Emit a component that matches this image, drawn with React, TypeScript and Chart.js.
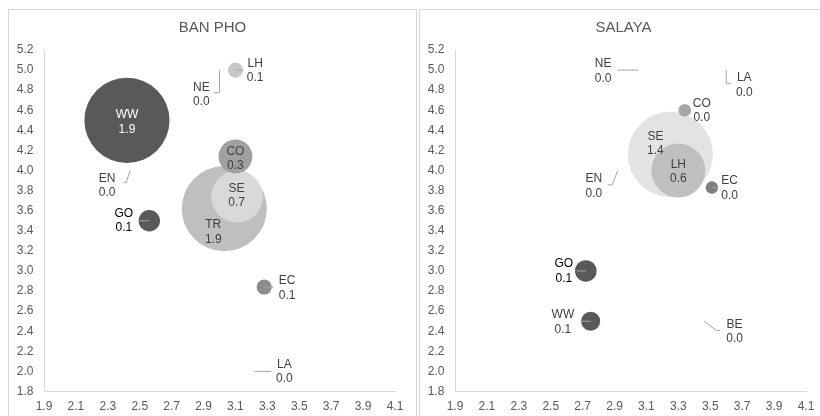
import React, { useEffect, useRef } from 'react';
import { Chart, registerables } from 'chart.js';

Chart.register(...registerables);

const FONT = '"Liberation Sans", Arial, Helvetica, sans-serif';
const AXIS_TEXT = '#595959';
const LABEL_TEXT = '#404040';
const LINE_GRAY = '#d9d9d9';
const LEADER_GRAY = '#a6a6a6';
const MAX_RADIUS = 42.6;

// ---- BAN PHO ----
const banPhoCategories = ['TR', 'SE', 'CO', 'WW', 'LH', 'NE', 'EN', 'GO', 'EC', 'LA'];
const banPhoX = [3.03, 3.11, 3.1, 2.42, 3.1, 3.0, 2.44, 2.56, 3.28, 3.22];
const banPhoY = [3.62, 3.74, 4.14, 4.5, 5.0, 5.0, 4.0, 3.5, 2.84, 2.0];
const banPhoValues = [1.9, 0.7, 0.3, 1.9, 0.06, 0.0, 0.0, 0.12, 0.06, 0.0];

// ---- SALAYA ----
const salayaCategories = ['SE', 'LH', 'CO', 'EC', 'NE', 'LA', 'EN', 'GO', 'WW', 'BE'];
const salayaX = [3.25, 3.3, 3.34, 3.51, 3.05, 3.6, 2.92, 2.72, 2.75, 3.46];
const salayaY = [4.16, 4.0, 4.6, 3.83, 5.0, 5.0, 4.0, 3.0, 2.5, 2.5];
const salayaValues = [1.4, 0.56, 0.03, 0.03, 0.0, 0.0, 0.0, 0.09, 0.07, 0.0];

// Axis ranges and tick step
const xRange = [1.9, 4.1];
const yRange = [1.8, 5.2];
const tickStep = 0.2;

// Styling per point (fill, label colour, label offset, leader polyline)
type Pt = [number, number];
interface PointStyle {
  fill: string;
  text: string;
  label: Pt;
  leader?: Pt[];
}

const banPhoStyles: PointStyle[] = [
  { fill: '#bfbfbf', text: LABEL_TEXT, label: [-11, 23.5] },
  { fill: '#d9d9d9', text: LABEL_TEXT, label: [-0.5, -1] },
  { fill: '#a0a0a0', text: LABEL_TEXT, label: [0, 2] },
  { fill: '#595959', text: '#ffffff', label: [0, 1.7] },
  { fill: '#c8c8c8', text: LABEL_TEXT, label: [19.7, 0.6], leader: [[0, 0], [8, 0]] },
  { fill: '#595959', text: LABEL_TEXT, label: [-18.2, 24.5], leader: [[0, 0], [0, 22.7], [-6, 22.7]] },
  { fill: '#595959', text: LABEL_TEXT, label: [-23, 15], leader: [[0, 0], [-4, 12], [-6.7, 12]] },
  { fill: '#595959', text: '#000000', label: [-25.5, 0], leader: [[-10, 0], [0, 0]] },
  { fill: '#8c8c8c', text: LABEL_TEXT, label: [23, 1.3], leader: [[0, 0], [9.5, 0]] },
  { fill: '#595959', text: LABEL_TEXT, label: [29.7, 0.5], leader: [[0, 0], [16.7, 0]] },
];

const salayaStyles: PointStyle[] = [
  { fill: '#e3e3e3', text: LABEL_TEXT, label: [-15, -11] },
  { fill: '#bfbfbf', text: LABEL_TEXT, label: [0, 1] },
  { fill: '#a5a5a5', text: LABEL_TEXT, label: [17, 0.3] },
  { fill: '#7f7f7f', text: LABEL_TEXT, label: [17.7, 0.4], leader: [[0, 0], [5, 0]] },
  { fill: '#595959', text: LABEL_TEXT, label: [-35.3, 1], leader: [[0, 0], [-21, 0]] },
  { fill: '#595959', text: LABEL_TEXT, label: [18, 15], leader: [[0, 0], [0, 13.3], [5, 13.3]] },
  { fill: '#595959', text: LABEL_TEXT, label: [-23.8, 15.8], leader: [[0, 0], [-5.6, 14.3], [-10, 14.3]] },
  { fill: '#595959', text: '#000000', label: [-22, 0], leader: [[0, 0], [-9, 0]] },
  { fill: '#595959', text: LABEL_TEXT, label: [-27.7, 1], leader: [[-10, 0], [0, 0]] },
  { fill: '#595959', text: LABEL_TEXT, label: [30.7, 10.5], leader: [[0, 0], [12.7, 9.3], [16, 9.3]] },
];

// Title drawn centred above the plot area
const panelTitle = {
  id: 'panelTitle',
  afterDraw(chart: any, _args: any, opts: any) {
    const { ctx, width } = chart;
    ctx.save();
    ctx.font = `15px ${FONT}`;
    ctx.fillStyle = AXIS_TEXT;
    ctx.textAlign = 'center';
    ctx.textBaseline = 'middle';
    ctx.fillText(opts.text, width / 2, 18.3);
    ctx.restore();
  },
};

// Category / value labels with leader lines
const bubbleLabels = {
  id: 'bubbleLabels',
  afterDatasetsDraw(chart: any, _args: any, opts: any) {
    const { ctx } = chart;
    const meta = chart.getDatasetMeta(0);
    const { categories, values, styles } = opts;
    ctx.save();
    ctx.strokeStyle = LEADER_GRAY;
    ctx.lineWidth = 1;
    meta.data.forEach((pt: any, i: number) => {
      const lead = styles[i].leader;
      if (!lead) return;
      ctx.beginPath();
      lead.forEach(([dx, dy]: Pt, j: number) => {
        const px = pt.x + dx;
        const py = pt.y + dy;
        if (j === 0) ctx.moveTo(px, py);
        else ctx.lineTo(px, py);
      });
      ctx.stroke();
    });
    ctx.font = `12px ${FONT}`;
    ctx.textAlign = 'center';
    ctx.textBaseline = 'middle';
    meta.data.forEach((pt: any, i: number) => {
      const [dx, dy] = styles[i].label;
      const cx = pt.x + dx;
      const cy = pt.y + dy;
      ctx.fillStyle = styles[i].text;
      ctx.fillText(categories[i], cx, cy - 7.25);
      ctx.fillText(Number(values[i]).toFixed(1), cx, cy + 7.25);
    });
    ctx.restore();
  },
};

const fmt = (v: any) => Number(v).toFixed(1);

function buildConfig(
  title: string,
  categories: string[],
  xs: number[],
  ys: number[],
  values: number[],
  styles: PointStyle[]
): any {
  const maxValue = Math.max(...values);
  const data = xs.map((x, i) => ({
    x,
    y: ys[i],
    r: MAX_RADIUS * Math.sqrt(values[i] / maxValue),
  }));
  const tickFont = { size: 12, family: FONT };
  return {
    type: 'bubble',
    data: {
      datasets: [
        {
          label: title,
          data,
          backgroundColor: styles.map((s) => s.fill),
          borderWidth: 0,
          hoverRadius: 0,
        },
      ],
    },
    plugins: [panelTitle, bubbleLabels],
    options: {
      animation: false,
      responsive: false,
      events: [],
      layout: { autoPadding: false, padding: { top: 40, right: 21, bottom: 0, left: 0 } },
      plugins: {
        legend: { display: false },
        tooltip: { enabled: false },
        title: { display: false },
        panelTitle: { text: title },
        bubbleLabels: { categories, values, styles },
      },
      scales: {
        x: {
          type: 'linear',
          min: xRange[0],
          max: xRange[1],
          grid: { display: false, drawTicks: false },
          border: { display: true, color: LINE_GRAY, width: 1 },
          ticks: {
            stepSize: tickStep,
            callback: fmt,
            color: AXIS_TEXT,
            font: tickFont,
            padding: 8,
            maxRotation: 0,
            autoSkip: false,
          },
          afterFit: (s: any) => {
            s.height = 28.5;
          },
        },
        y: {
          type: 'linear',
          min: yRange[0],
          max: yRange[1],
          grid: { display: false, drawTicks: false },
          border: { display: true, color: LINE_GRAY, width: 1 },
          ticks: {
            stepSize: tickStep,
            callback: fmt,
            color: AXIS_TEXT,
            font: tickFont,
            padding: 10.5,
            autoSkip: false,
          },
          afterFit: (s: any) => {
            s.width = 35;
          },
        },
      },
    },
  };
}

function BubblePanel(props: {
  left: number;
  title: string;
  categories: string[];
  xs: number[];
  ys: number[];
  values: number[];
  styles: PointStyle[];
}) {
  const ref = useRef<HTMLCanvasElement | null>(null);
  const { left, title, categories, xs, ys, values, styles } = props;
  useEffect(() => {
    if (!ref.current) return;
    const chart = new Chart(ref.current, buildConfig(title, categories, xs, ys, values, styles));
    return () => chart.destroy();
  }, []);
  return (
    <div
      style={{
        position: 'absolute',
        left,
        top: 9,
        width: 407,
        height: 420,
        border: `1px solid ${LINE_GRAY}`,
        background: '#ffffff',
      }}
    >
      <canvas ref={ref} width={407} height={410} style={{ display: 'block', width: 407, height: 410 }} />
    </div>
  );
}

export default function App() {
  return (
    <div
      style={{
        position: 'fixed',
        left: 0,
        top: 0,
        width: 820,
        height: 416,
        overflow: 'hidden',
        background: '#ffffff',
      }}
    >
      <BubblePanel
        left={8}
        title="BAN PHO"
        categories={banPhoCategories}
        xs={banPhoX}
        ys={banPhoY}
        values={banPhoValues}
        styles={banPhoStyles}
      />
      <BubblePanel
        left={419}
        title="SALAYA"
        categories={salayaCategories}
        xs={salayaX}
        ys={salayaY}
        values={salayaValues}
        styles={salayaStyles}
      />
    </div>
  );
}
